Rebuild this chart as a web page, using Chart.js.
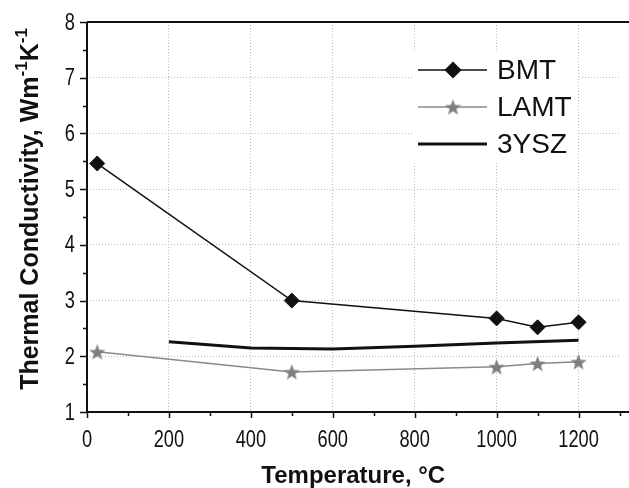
<!DOCTYPE html>
<html>
<head>
<meta charset="utf-8">
<script src="https://cdn.jsdelivr.net/npm/chart.js@4"></script>
<style>
  html, body { margin: 0; padding: 0; background: #fff; }
  #wrap { width: 629px; height: 488px; }
</style>
</head>
<body>
<div id="wrap"><canvas id="chart" width="629" height="488"></canvas></div>
<script>
(function () {
    'use strict';

    // sample temperatures (°C) and conductivities
    const SAMPLE_TEMPS = [25, 500, 1000, 1100, 1200];
    const BMT_VALUES = [5.46, 3.0, 2.68, 2.52, 2.61];
    const LAMT_VALUES = [2.08, 1.72, 1.81, 1.87, 1.90];

    const YSZ_TEMPS = [200, 400, 600, 800, 1000, 1200];
    const YSZ_VALUES = [2.26, 2.15, 2.13, 2.18, 2.24, 2.29];

    const X_TICKS = [0, 200, 400, 600, 800, 1000, 1200];
    const Y_TICKS = [1, 2, 3, 4, 5, 6, 7, 8];

    const FONT = '"Liberation Sans", Arial, Helvetica, sans-serif';

    function toPoints(xs, ys) {
        return xs.map((x, i) => ({ x: x, y: ys[i] }));
    }

    // filled five-point star for the LAMT markers
    function makeStar(size, color) {
        const c = document.createElement('canvas');
        c.width = size; c.height = size;
        const g = c.getContext('2d');
        const cx = size / 2, cy = size / 2 + 0.8;
        const ro = size / 2, ri = ro * 0.42;
        g.beginPath();
        for (let i = 0; i < 10; i++) {
            const r = i % 2 ? ri : ro;
            const a = -Math.PI / 2 + i * Math.PI / 5;
            const px = cx + r * Math.cos(a), py = cy + r * Math.sin(a);
            if (i === 0) g.moveTo(px, py); else g.lineTo(px, py);
        }
        g.closePath();
        g.fillStyle = color;
        g.fill();
        return c;
    }
    const STAR = makeStar(17, '#7f7f7f');

    // condensed tick label, the original figure uses a narrow face
    function narrowText(ctx, text, x, y, align) {
        const sx = 0.76;
        ctx.save();
        ctx.font = '24px ' + FONT;
        ctx.textBaseline = 'middle';
        const w = ctx.measureText(text).width * sx;
        let left = x;
        if (align === 'center') left = x - w / 2;
        if (align === 'right') left = x - w;
        ctx.translate(left, y);
        ctx.scale(sx, 1);
        ctx.textAlign = 'left';
        ctx.fillText(text, 0, 0);
        ctx.restore();
    }

    // frame, minor ticks, tick labels, y title and legend box
    const decorPlugin = {
        id: 'decor',
        beforeDatasetsDraw(chart) {
            const ctx = chart.ctx;
            const xs = chart.scales.x, ys = chart.scales.y;
            const a = chart.chartArea;
            ctx.save();
            ctx.strokeStyle = '#111';
            ctx.lineWidth = 1.5;
            ctx.beginPath();
            for (let v = 0; v <= 1300; v += 100) {
                const px = Math.round(xs.getPixelForValue(v)) + 0.5;
                const len = v % 200 === 0 ? 6 : 4;
                ctx.moveTo(px, a.bottom);
                ctx.lineTo(px, a.bottom + len);
            }
            for (let v = 1; v <= 8; v += 0.5) {
                const py = Math.round(ys.getPixelForValue(v)) + 0.5;
                const len = Number.isInteger(v) ? 7 : 4;
                ctx.moveTo(a.left, py);
                ctx.lineTo(a.left - len, py);
            }
            ctx.stroke();

            ctx.fillStyle = '#111';
            xs.ticks.forEach(t => narrowText(ctx, String(t.value), xs.getPixelForValue(t.value), 440, 'center'));
            ys.ticks.forEach(t => narrowText(ctx, String(t.value), 75, ys.getPixelForValue(t.value) + 1, 'right'));

            // legend background hides the grid behind it
            ctx.fillStyle = '#fff';
            ctx.fillRect(412, 50, 166, 113);

            // axes frame
            ctx.lineWidth = 2;
            ctx.beginPath();
            ctx.moveTo(a.left, a.top);
            ctx.lineTo(chart.width, a.top);
            ctx.moveTo(a.left, a.top);
            ctx.lineTo(a.left, a.bottom);
            ctx.lineTo(chart.width, a.bottom);
            ctx.stroke();

            // y axis title with superscripts
            ctx.translate(30, (a.top + a.bottom) / 2 - 8);
            ctx.rotate(-Math.PI / 2);
            ctx.fillStyle = '#111';
            ctx.textBaseline = 'middle';
            const parts = [
                ['Thermal Conductivity, Wm', false],
                ['-1', true],
                ['K', false],
                ['-1', true]
            ];
            const big = 'bold 25px ' + FONT, small = 'bold 17px ' + FONT;
            let total = 0;
            parts.forEach(p => { ctx.font = p[1] ? small : big; total += ctx.measureText(p[0]).width; });
            let x = -total / 2;
            parts.forEach(p => {
                ctx.font = p[1] ? small : big;
                ctx.fillText(p[0], x, p[1] ? -8 : 1);
                x += ctx.measureText(p[0]).width;
            });
            ctx.restore();
        },
        afterDatasetsDraw(chart) {
            const ctx = chart.ctx;
            ctx.save();
            const rows = [70, 107, 144];
            chart.data.datasets.forEach((ds, i) => {
                const y = rows[i];
                ctx.strokeStyle = ds.borderColor;
                ctx.lineWidth = ds.borderWidth;
                ctx.beginPath();
                ctx.moveTo(418, y);
                ctx.lineTo(487, y);
                ctx.stroke();
                if (ds.pointRadius > 0) {
                    ctx.fillStyle = ds.pointBackgroundColor || '#111';
                    ctx.strokeStyle = ds.pointBorderColor || '#111';
                    Chart.helpers.drawPoint(ctx, {
                        pointStyle: ds.pointStyle,
                        radius: ds.pointRadius,
                        borderWidth: 1
                    }, 453, y);
                }
                ctx.fillStyle = '#111';
                ctx.font = '28px ' + FONT;
                ctx.textBaseline = 'middle';
                ctx.fillText(ds.label, 497, y + 1);
            });
            ctx.restore();
        }
    };

    new Chart(document.getElementById('chart'), {
        type: 'line',
        data: {
            datasets: [{
                label: 'BMT',
                data: toPoints(SAMPLE_TEMPS, BMT_VALUES),
                borderColor: '#111',
                borderWidth: 1.5,
                pointStyle: 'rectRot',
                pointRadius: 7.5,
                pointBackgroundColor: '#111',
                pointBorderColor: '#111',
                pointBorderWidth: 1
            }, {
                label: 'LAMT',
                data: toPoints(SAMPLE_TEMPS, LAMT_VALUES),
                borderColor: '#8a8a8a',
                borderWidth: 1.5,
                pointStyle: STAR,
                pointRadius: 8
            }, {
                label: '3YSZ',
                data: toPoints(YSZ_TEMPS, YSZ_VALUES),
                borderColor: '#111',
                borderWidth: 3,
                pointRadius: 0
            }]
        },
        options: {
            responsive: false,
            animation: false,
            events: [],
            layout: { padding: { left: 0, top: 22, right: -3, bottom: 0 } },
            scales: {
                x: {
                    type: 'linear',
                    min: 0,
                    max: 1300,
                    afterBuildTicks: s => { s.ticks = X_TICKS.map(v => ({ value: v })); },
                    afterFit: s => { s.height = 76; },
                    grid: {
                        color: c => c.tick.value === 0 ? 'rgba(0,0,0,0)' : '#bdbdbd',
                        lineWidth: 1,
                        drawTicks: false
                    },
                    border: { display: false, dash: [1, 2] },
                    ticks: { display: false },
                    title: {
                        display: true,
                        text: 'Temperature, °C',
                        color: '#111',
                        padding: 0,
                        font: { family: FONT, size: 24, weight: 'bold', lineHeight: 1 }
                    }
                },
                y: {
                    min: 1,
                    max: 8,
                    afterBuildTicks: s => { s.ticks = Y_TICKS.map(v => ({ value: v })); },
                    afterFit: s => { s.width = 87; },
                    grid: {
                        color: c => (c.tick.value === 1 || c.tick.value === 8) ? 'rgba(0,0,0,0)' : '#bdbdbd',
                        lineWidth: 1,
                        drawTicks: false
                    },
                    border: { display: false, dash: [1, 2] },
                    ticks: { display: false }
                }
            },
            plugins: {
                legend: { display: false },
                tooltip: { enabled: false }
            }
        },
        plugins: [decorPlugin]
    });
})();
</script>
</body>
</html>
